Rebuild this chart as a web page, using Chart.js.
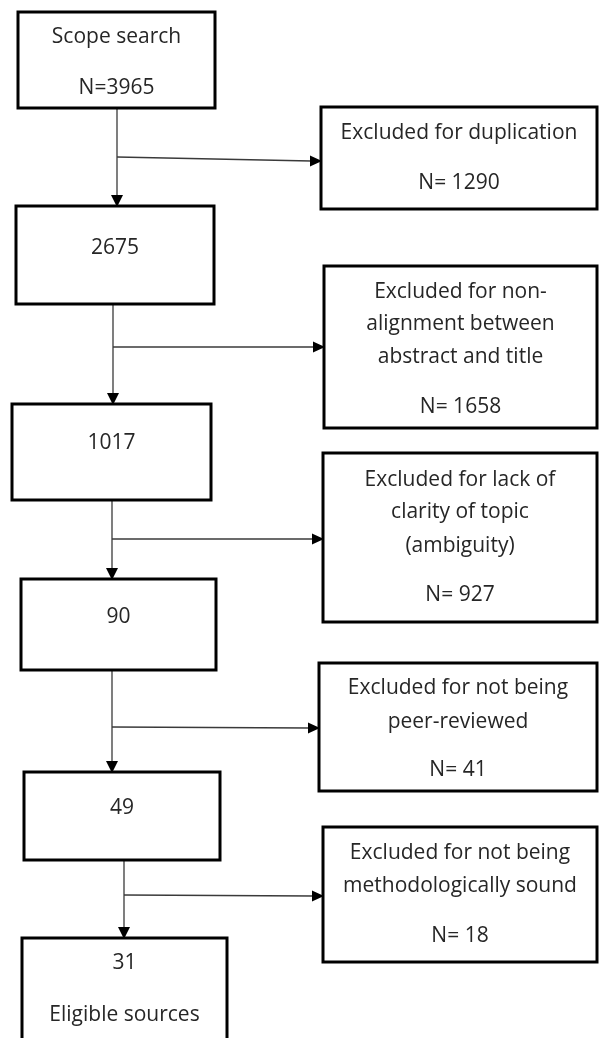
<!DOCTYPE html>
<html>
<head>
<meta charset="utf-8">
<script src="https://cdn.jsdelivr.net/npm/chart.js@4"></script>
<style>
  html, body { margin: 0; padding: 0; background: #fff; }
  canvas { display: block; }
</style>
</head>
<body>
<canvas id="flowChart" width="599" height="1038"></canvas>
<script>
// screening stages (left column) and exclusions (right column)
const stageLabels = ['Scope search', '', '', '', '', 'Eligible sources'];
const stageCounts = [3965, 2675, 1017, 90, 49, 31];
const exclusionReasons = [
  ['Excluded for duplication'],
  ['Excluded for non-', 'alignment between', 'abstract and title'],
  ['Excluded for lack of', 'clarity of topic', '(ambiguity)'],
  ['Excluded for not being', 'peer-reviewed'],
  ['Excluded for not being', 'methodologically sound']
];
const exclusionCounts = [1290, 1658, 927, 41, 18];

// layout in axis units (the scales span the page 1:1)
const stageBoxes = [
  { x0: 18, x1: 215, y0: 12, y1: 108, textY: [37, 88] },
  { x0: 16, x1: 214, y0: 206, y1: 304, textY: [248] },
  { x0: 12, x1: 211, y0: 404, y1: 500, textY: [443] },
  { x0: 21, x1: 216, y0: 579, y1: 670, textY: [617] },
  { x0: 24, x1: 220, y0: 772, y1: 860, textY: [808] },
  { x0: 22, x1: 227, y0: 938, y1: 1050, textY: [963, 1015] }
];
const exclusionBoxes = [
  { x0: 321, x1: 597, y0: 107, y1: 209, textY: [133], countY: 183 },
  { x0: 324, x1: 597, y0: 266, y1: 428, textY: [292, 324, 357], countY: 407 },
  { x0: 323, x1: 597, y0: 453, y1: 622, textY: [480, 512, 546], countY: 595 },
  { x0: 319, x1: 597, y0: 663, y1: 791, textY: [688, 722], countY: 770 },
  { x0: 323, x1: 597, y0: 827, y1: 962, textY: [853, 886], countY: 936 }
];
const connectors = [
  { x: 117, hy0: 157, hy1: 161 },
  { x: 113, hy0: 347, hy1: 347 },
  { x: 112, hy0: 539, hy1: 539 },
  { x: 112, hy0: 727, hy1: 728 },
  { x: 124, hy0: 895, hy1: 896 }
];

const FONT = '21px "Open Sans", sans-serif';
const TEXT_COLOR = '#262626';

const flowPlugin = {
  id: 'flow',
  afterDraw(chart) {
    const c = chart.ctx;
    const sx = v => chart.scales.x.getPixelForValue(v);
    const sy = v => chart.scales.y.getPixelForValue(v);

    function box(b) {
      c.save();
      c.strokeStyle = '#000';
      c.lineWidth = 3;
      c.strokeRect(sx(b.x0), sy(b.y0), sx(b.x1) - sx(b.x0), sy(b.y1) - sy(b.y0));
      c.restore();
    }
    function text(str, x, y) {
      c.save();
      c.font = FONT;
      c.fillStyle = TEXT_COLOR;
      c.textAlign = 'center';
      c.textBaseline = 'middle';
      c.fillText(str, sx(x), sy(y));
      c.restore();
    }
    function line(x0, y0, x1, y1) {
      c.save();
      c.strokeStyle = '#3a3a3a';
      c.lineWidth = 1.3;
      c.beginPath();
      c.moveTo(sx(x0), sy(y0));
      c.lineTo(sx(x1), sy(y1));
      c.stroke();
      c.restore();
    }
    function arrowDown(x, y) {
      c.save();
      c.fillStyle = '#000';
      c.beginPath();
      c.moveTo(sx(x), sy(y));
      c.lineTo(sx(x) - 6, sy(y) - 12);
      c.lineTo(sx(x) + 6, sy(y) - 12);
      c.closePath();
      c.fill();
      c.restore();
    }
    function arrowRight(x, y) {
      c.save();
      c.fillStyle = '#000';
      c.beginPath();
      c.moveTo(sx(x), sy(y));
      c.lineTo(sx(x) - 12, sy(y) - 5.5);
      c.lineTo(sx(x) - 12, sy(y) + 5.5);
      c.closePath();
      c.fill();
      c.restore();
    }

    // connectors
    connectors.forEach((k, i) => {
      const from = stageBoxes[i], to = stageBoxes[i + 1], ex = exclusionBoxes[i];
      line(k.x, from.y1, k.x, to.y0 - 10);
      arrowDown(k.x, to.y0 + 1);
      line(k.x, k.hy0, ex.x0 - 10, k.hy1);
      arrowRight(ex.x0 + 1, k.hy1);
    });

    // stage boxes
    stageBoxes.forEach((b, i) => {
      box(b);
      const cx = (b.x0 + b.x1) / 2;
      if (i === 0) {
        text(stageLabels[i], cx, b.textY[0]);
        text('N=' + stageCounts[i], cx, b.textY[1]);
      } else {
        text(String(stageCounts[i]), cx, b.textY[0]);
        if (stageLabels[i]) text(stageLabels[i], cx, b.textY[1]);
      }
    });

    // exclusion boxes
    exclusionBoxes.forEach((b, i) => {
      box(b);
      const cx = (b.x0 + b.x1) / 2;
      exclusionReasons[i].forEach((ln, j) => text(ln, cx, b.textY[j]));
      text('N= ' + exclusionCounts[i], cx, b.countY);
    });
  }
};

new Chart(document.getElementById('flowChart').getContext('2d'), {
  type: 'scatter',
  data: { datasets: [{ data: [] }] },
  options: {
    responsive: false,
    animation: false,
    layout: { padding: 0 },
    plugins: { legend: { display: false }, tooltip: { enabled: false } },
    scales: {
      x: { type: 'linear', min: 0, max: 599, display: false },
      y: { type: 'linear', min: 0, max: 1038, reverse: true, display: false }
    }
  },
  plugins: [flowPlugin]
});
</script>
</body>
</html>
